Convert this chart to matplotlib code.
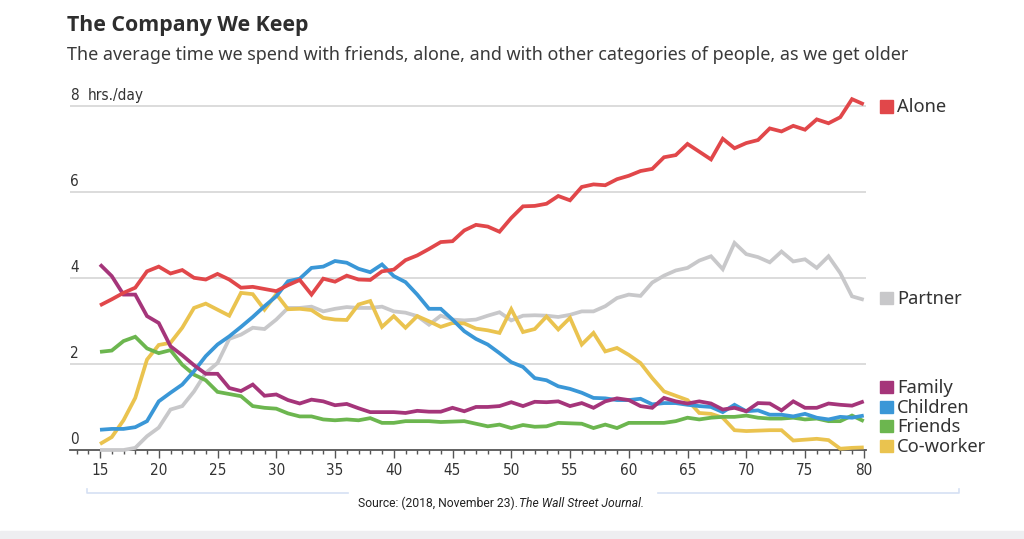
import matplotlib
matplotlib.use("Agg")
import matplotlib.pyplot as plt
import matplotlib.font_manager as fm
from matplotlib.patches import Rectangle
from matplotlib.lines import Line2D
from matplotlib.ticker import MultipleLocator

# ---------------- data ----------------
ages = list(range(15, 81))

alone = [3.36, 3.50, 3.65, 3.77, 4.15, 4.26, 4.10, 4.18, 4.00, 3.96,
         4.09, 3.96, 3.77, 3.79, 3.74, 3.69, 3.83, 3.95, 3.61, 3.98,
         3.91, 4.05, 3.96, 3.95, 4.15, 4.19, 4.41, 4.52, 4.67, 4.83,
         4.85, 5.10, 5.23, 5.19, 5.07, 5.39, 5.66, 5.67, 5.72, 5.90,
         5.80, 6.11, 6.17, 6.15, 6.29, 6.37, 6.48, 6.53, 6.80, 6.85,
         7.11, 6.93, 6.75, 7.23, 7.01, 7.13, 7.20, 7.47, 7.40, 7.53,
         7.44, 7.68, 7.59, 7.73, 8.15, 8.03]

partner = [0.00, 0.00, 0.00, 0.05, 0.32, 0.52, 0.94, 1.02, 1.36, 1.79,
           2.02, 2.58, 2.68, 2.84, 2.81, 3.03, 3.30, 3.30, 3.33, 3.22,
           3.28, 3.32, 3.30, 3.30, 3.33, 3.22, 3.19, 3.11, 2.91, 3.12,
           3.03, 3.01, 3.03, 3.12, 3.20, 3.01, 3.12, 3.13, 3.12, 3.09,
           3.14, 3.22, 3.22, 3.34, 3.53, 3.61, 3.58, 3.89, 4.05, 4.17,
           4.23, 4.40, 4.50, 4.20, 4.81, 4.55, 4.48, 4.36, 4.61, 4.38,
           4.43, 4.23, 4.50, 4.11, 3.57, 3.49]

family = [4.31, 4.04, 3.61, 3.61, 3.11, 2.95, 2.41, 2.20, 1.97, 1.77,
          1.77, 1.44, 1.37, 1.52, 1.26, 1.29, 1.16, 1.08, 1.17, 1.13,
          1.04, 1.07, 0.97, 0.88, 0.88, 0.88, 0.86, 0.91, 0.89, 0.89,
          0.98, 0.90, 1.00, 1.00, 1.02, 1.11, 1.02, 1.12, 1.11, 1.13,
          1.02, 1.09, 0.98, 1.13, 1.20, 1.16, 1.02, 0.98, 1.21, 1.13,
          1.08, 1.13, 1.08, 0.94, 0.98, 0.90, 1.09, 1.08, 0.92, 1.13,
          0.98, 0.98, 1.08, 1.05, 1.03, 1.13]

children = [0.47, 0.49, 0.49, 0.53, 0.67, 1.13, 1.33, 1.52, 1.83, 2.18,
            2.45, 2.64, 2.86, 3.09, 3.34, 3.57, 3.92, 3.98, 4.23, 4.26,
            4.39, 4.35, 4.21, 4.13, 4.31, 4.04, 3.90, 3.61, 3.28, 3.28,
            3.03, 2.76, 2.58, 2.45, 2.25, 2.04, 1.93, 1.67, 1.62, 1.48,
            1.42, 1.33, 1.21, 1.20, 1.16, 1.16, 1.19, 1.06, 1.09, 1.09,
            1.05, 1.02, 1.00, 0.88, 1.05, 0.90, 0.92, 0.82, 0.82, 0.78,
            0.84, 0.75, 0.71, 0.77, 0.75, 0.80]

friends = [2.28, 2.31, 2.53, 2.63, 2.36, 2.25, 2.32, 1.98, 1.75, 1.62,
           1.35, 1.30, 1.25, 1.02, 0.98, 0.96, 0.85, 0.78, 0.78, 0.71,
           0.69, 0.71, 0.69, 0.74, 0.63, 0.63, 0.67, 0.67, 0.67, 0.65,
           0.66, 0.67, 0.61, 0.55, 0.59, 0.51, 0.58, 0.54, 0.55, 0.63,
           0.62, 0.61, 0.51, 0.59, 0.51, 0.63, 0.63, 0.63, 0.63, 0.67,
           0.75, 0.71, 0.75, 0.77, 0.77, 0.80, 0.75, 0.73, 0.73, 0.75,
           0.71, 0.73, 0.67, 0.67, 0.80, 0.67]

coworker = [0.14, 0.30, 0.69, 1.21, 2.10, 2.44, 2.49, 2.84, 3.30, 3.40,
            3.26, 3.12, 3.65, 3.62, 3.26, 3.62, 3.27, 3.28, 3.25, 3.07,
            3.03, 3.02, 3.38, 3.46, 2.86, 3.11, 2.84, 3.11, 2.99, 2.86,
            2.95, 2.94, 2.82, 2.78, 2.72, 3.27, 2.74, 2.81, 3.10, 2.80,
            3.07, 2.45, 2.72, 2.29, 2.37, 2.21, 2.02, 1.67, 1.36, 1.26,
            1.16, 0.86, 0.84, 0.75, 0.46, 0.44, 0.45, 0.46, 0.46, 0.22,
            0.24, 0.26, 0.23, 0.03, 0.05, 0.06]

y_ticks = [0, 2, 4, 6, 8]
x_ticks = [15, 20, 25, 30, 35, 40, 45, 50, 55, 60, 65, 70, 75, 80]

title = "The Company We Keep"
subtitle = ("The average time we spend with friends, alone, and with other "
            "categories of people, as we get older")
source_plain = "Source: (2018, November 23)."
source_italic = "The Wall Street Journal."

# ---------------- style ----------------
C_ALONE = "#e1474a"
C_PARTNER = "#c8c8ca"
C_FAMILY = "#a5357a"
C_CHILDREN = "#3a97d7"
C_FRIENDS = "#6cb64f"
C_COWORKER = "#eac34f"
TXT = "#333333"

entries = fm.fontManager.ttflist
names = {f.name for f in entries}
if "Liberation Sans Narrow" in names:
    NARROW = dict(family="Liberation Sans Narrow")
    NSIZE = 11.8
elif any(f.name == "DejaVu Sans" and "condensed" in str(f.stretch) for f in entries):
    NARROW = dict(family="DejaVu Sans", stretch="condensed")
    NSIZE = 11.0
else:
    NARROW = dict(family="Roboto")
    NSIZE = 11.0

HEAD = "Noto Sans"


def has_bold(name):
    for f in entries:
        if f.name == name and str(f.weight) in ("700", "bold") and f.style == "normal":
            return True
    return False


BOLD_FAMILY = "DejaVu Sans"
for cand in ["Noto Sans", "Open Sans", "Lato", "Inter", "Roboto"]:
    if has_bold(cand):
        BOLD_FAMILY = cand
        break

W, H = 1024, 539
fig = plt.figure(figsize=(W / 100, H / 100), dpi=100)
fig.patch.set_facecolor("white")


def fx(px):
    return px / W


def fy(py):
    return 1 - py / H


# axes placement (pixel geometry of the reference)
px_per_year = (863.75 - 100) / 65.0
x_left = 15 - (100 - 70) / px_per_year
x_right = 80 + (866 - 863.75) / px_per_year
ymax = 8.5
px_per_hr = 43.05
ax_top = 450 - ymax * px_per_hr
ax = fig.add_axes([fx(70), fy(450), fx(866) - fx(70), (450 - ax_top) / H])
ax.set_xlim(x_left, x_right)
ax.set_ylim(0, ymax)
ax.patch.set_alpha(0)

for s in ["top", "right", "left"]:
    ax.spines[s].set_visible(False)
ax.spines["bottom"].set_color("#555555")
ax.spines["bottom"].set_linewidth(1.3)

for v in y_ticks[1:]:
    ax.axhline(v, color="#d2d2d2", lw=1.1, zorder=1)

ax.set_yticks([])
ax.set_xticks(x_ticks)
ax.xaxis.set_minor_locator(MultipleLocator(1))
ax.tick_params(axis="x", which="major", length=5.8, width=1.0, color="#555555",
               pad=3.5, labelsize=NSIZE, labelcolor=TXT)
ax.tick_params(axis="x", which="minor", length=2.9, width=1.0, color="#555555")
for lab in ax.get_xticklabels():
    lab.set_fontproperties(fm.FontProperties(size=NSIZE, **NARROW))

series = [
    (partner, C_PARTNER),
    (coworker, C_COWORKER),
    (friends, C_FRIENDS),
    (children, C_CHILDREN),
    (family, C_FAMILY),
    (alone, C_ALONE),
]
for vals, col in series:
    ax.plot(ages, vals, color=col, lw=2.7, solid_joinstyle="miter",
            solid_capstyle="butt", zorder=3, clip_on=False)

# y labels sitting above the gridlines
for v in y_ticks:
    ax.text(x_left, v + 0.14, str(v), ha="left", va="baseline",
            fontsize=NSIZE, color=TXT, **NARROW)
ax.text(15 - (100 - 88) / px_per_year, 8 + 0.14, "hrs./day", ha="left",
        va="baseline", fontsize=NSIZE, color=TXT, **NARROW)

# ---------------- titles ----------------
renderer = fig.canvas.get_renderer()


def fit(t, target_w):
    w = t.get_window_extent(renderer).width
    t.set_fontsize(t.get_fontsize() * target_w / w)


t1 = fig.text(fx(67), fy(31.5), title, fontsize=15, fontweight="bold",
              family=BOLD_FAMILY, color="#2e2e2e", ha="left", va="baseline")
fit(t1, 242)
t2 = fig.text(fx(67), fy(60), subtitle, fontsize=12, family=HEAD,
              color="#3a3a3a", ha="left", va="baseline")
fit(t2, 840)

# ---------------- legend labels ----------------
legend = [
    ("Alone", C_ALONE, 112.5),
    ("Partner", C_PARTNER, 304),
    ("Family", C_FAMILY, 393),
    ("Children", C_CHILDREN, 413),
    ("Friends", C_FRIENDS, 432),
    ("Co-worker", C_COWORKER, 452),
]
for name, col, base in legend:
    fig.patches.append(Rectangle((fx(880), fy(base)), 13 / W, 12 / H,
                                 transform=fig.transFigure, color=col,
                                 zorder=5))
    fig.text(fx(897), fy(base), name, fontsize=13.2, family=HEAD,
             color=TXT, ha="left", va="baseline")

# ---------------- source ----------------
s1 = fig.text(fx(358), fy(507), source_plain, fontsize=9, family="Roboto",
              color="#222222", ha="left", va="baseline")
s2 = fig.text(fx(358), fy(507), source_italic, fontsize=9, family="Roboto",
              style="italic", color="#222222", ha="left", va="baseline")
w1 = s1.get_window_extent(renderer).width
w2 = s2.get_window_extent(renderer).width
k = 285 / (w1 + w2)
s1.set_fontsize(9 * k)
s2.set_fontsize(9 * k)
w1 = s1.get_window_extent(renderer).width
s2.set_x(fx(358 + w1 + 1))

# bracket lines around the source
bc = "#d5e0f3"
for xs, ys in [([87, 87, 348], [489, 493, 493]),
               ([658, 959, 959], [493, 493, 489])]:
    fig.lines.append(Line2D([fx(x) for x in xs], [fy(y) for y in ys],
                            transform=fig.transFigure, color=bc, lw=1.2))

# faint screenshot band at the bottom
fig.patches.append(Rectangle((0, 0), 1, 8 / H, transform=fig.transFigure,
                             color="#eeeef1", zorder=0))

fig.savefig("out.png", dpi=100, facecolor="white")
